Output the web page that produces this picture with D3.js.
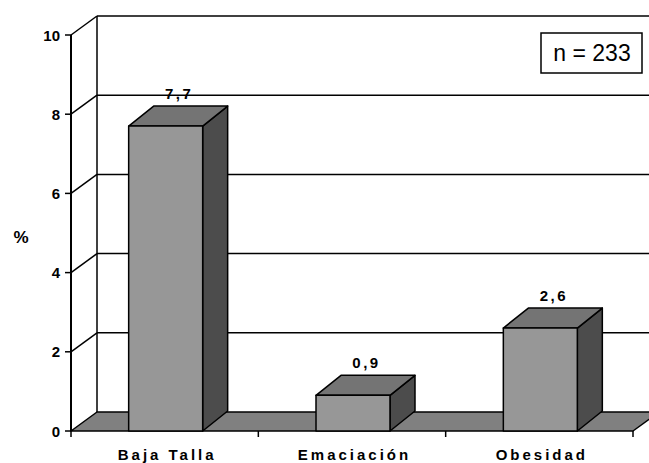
<!DOCTYPE html>
<html>
<head>
<meta charset="utf-8">
<script src="https://cdn.jsdelivr.net/npm/d3@7"></script>
<style>
  html, body { margin: 0; padding: 0; background: #fff; }
  svg { display: block; }
  text { font-family: "Liberation Sans", Arial, sans-serif; }
</style>
</head>
<body>
<svg id="chart" width="649" height="463"></svg>
<script>
// ---- data ----
const categories = ["Baja Talla", "Emaciación", "Obesidad"];
const values = [7.7, 0.9, 2.6];
const valueLabels = ["7,7", "0,9", "2,6"];
const yTicks = [0, 2, 4, 6, 8, 10];
const yTitle = "%";
const noteText = "n = 233";

// ---- layout ----
const plotLeft = 71, plotRight = 633, plotBottom = 431, plotTop = 35;
const wall = { dx: 26, dy: -19 };
const bar = { dx: 25, dy: -20 };
const colors = { front: "#979797", top: "#747474", side: "#4c4c4c", floor: "#808080" };

const svg = d3.select("#chart");
const x = d3.scaleBand().domain(categories).range([plotLeft, plotRight]).padding(0);
const y = d3.scaleLinear().domain([0, 10]).range([plotBottom, plotTop]);

const g = svg.append("g");
const line = (x1, y1, x2, y2, w) => g.append("line")
  .attr("x1", x1).attr("y1", y1).attr("x2", x2).attr("y2", y2)
  .attr("stroke", "#000").attr("stroke-width", w || 1.5);

// back-wall gridlines + left wall diagonals
yTicks.filter(t => t > 0).forEach(t => {
  line(plotLeft + wall.dx, y(t) + wall.dy, plotRight + wall.dx, y(t) + wall.dy, 1.5);
  line(plotLeft, y(t), plotLeft + wall.dx, y(t) + wall.dy, 1.5);
});
// back wall left edge
line(plotLeft + wall.dx, y(10) + wall.dy, plotLeft + wall.dx, y(0) + wall.dy, 1.5);

// floor
g.append("polygon")
  .attr("points", [[plotLeft, y(0)], [plotRight, y(0)], [plotRight + wall.dx, y(0) + wall.dy], [plotLeft + wall.dx, y(0) + wall.dy]].map(p => p.join(",")).join(" "))
  .attr("fill", colors.floor).attr("stroke", "#000").attr("stroke-width", 1.5).attr("stroke-linejoin", "round");

// front value axis
line(plotLeft, y(10), plotLeft, y(0) + 0.5, 2);
yTicks.forEach(t => {
  line(plotLeft - 6, y(t), plotLeft, y(t), 1.5);
  g.append("text").attr("x", plotLeft - 11).attr("y", y(t) + 5.5)
    .attr("text-anchor", "end").attr("font-size", 15).attr("font-weight", "bold")
    .text(t);
});

// category ticks
const catEdges = categories.map(c => x(c)).concat([plotRight]);
catEdges.forEach(cx => line(cx, y(0), cx, y(0) + 6, 1.5));

// bars
const bw = x.bandwidth() * 0.395;
categories.forEach((c, i) => {
  const cx = x(c) + x.bandwidth() / 2 + 1;
  const x0 = cx - bw / 2, x1 = cx + bw / 2;
  const y0 = y(0), y1 = y(values[i]);
  const poly = (pts, fill) => g.append("polygon")
    .attr("points", pts.map(p => p.join(",")).join(" "))
    .attr("fill", fill).attr("stroke", "#000").attr("stroke-width", 1.5).attr("stroke-linejoin", "round");
  poly([[x1, y0], [x1 + bar.dx, y0 + bar.dy], [x1 + bar.dx, y1 + bar.dy], [x1, y1]], colors.side);
  poly([[x0, y1], [x1, y1], [x1 + bar.dx, y1 + bar.dy], [x0 + bar.dx, y1 + bar.dy]], colors.top);
  poly([[x0, y0], [x1, y0], [x1, y1], [x0, y1]], colors.front);
  // value label
  g.append("text").attr("x", cx + bar.dx / 2 + 1).attr("y", y1 + bar.dy - 7)
    .attr("text-anchor", "middle").attr("font-size", 15).attr("font-weight", "bold")
    .attr("letter-spacing", 2.5)
    .text(valueLabels[i]);
  // category label
  g.append("text").attr("x", cx + 1.5).attr("y", 460)
    .attr("text-anchor", "middle").attr("font-size", 15).attr("font-weight", "bold")
    .attr("letter-spacing", 3)
    .text(c);
});

// y title
g.append("text").attr("x", 21).attr("y", 243)
  .attr("text-anchor", "middle").attr("font-size", 17).attr("font-weight", "bold")
  .text(yTitle);

// note box
g.append("rect").attr("x", 541).attr("y", 33).attr("width", 101).attr("height", 40)
  .attr("fill", "#fff").attr("stroke", "#000").attr("stroke-width", 1.5);
g.append("text").attr("x", 592).attr("y", 61)
  .attr("text-anchor", "middle").attr("font-size", 23)
  .text(noteText);
</script>
</body>
</html>
